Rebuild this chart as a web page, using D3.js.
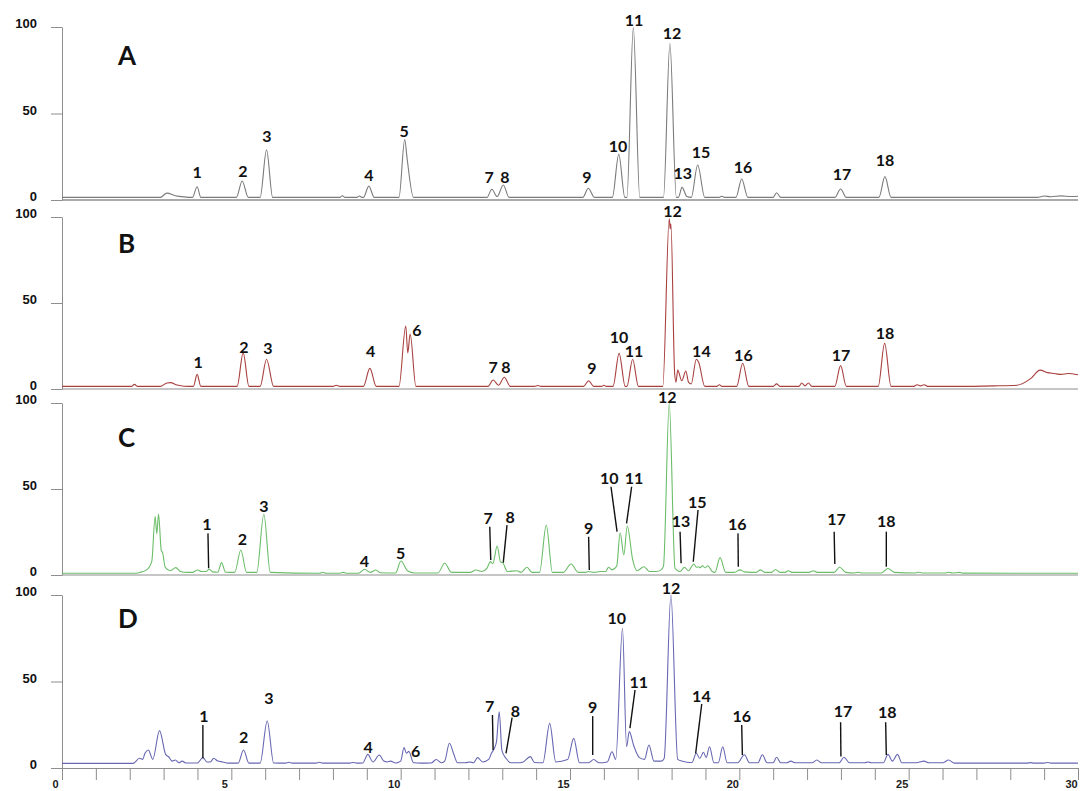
<!DOCTYPE html>
<html>
<head>
<meta charset="utf-8">
<script src="https://cdnjs.cloudflare.com/ajax/libs/d3/7.8.5/d3.min.js"></script>
<style>
body { margin: 0; background: #fff; }
svg text { font-family: Lato, "Liberation Sans", sans-serif; }
</style>
</head>
<body>
<div id="chart"></div>
<script>
// panel names, ticks
var panelNames = ['A', 'B', 'C', 'D'];
var yTicks = [0, 50, 100];
var xTickLabels = [0, 5, 10, 15, 20, 25, 30];
var xMinorTicks = [0,1,2,3,4,5,6,7,8,9,10,11,12,13,14,15,16,17,18,19,20,21,22,23,24,25,26,27,28,29,30];

// traces: [minutes, relative intensity]
var traceA = [[0,1.5],[2.9,1.5],[3.1,4],[3.35,2.5],[3.6,1.8],[3.85,1.5],[3.99,7.7],[4.1,1.5],[5.15,1.5],[5.32,11],[5.5,1.5],
  [5.85,1.5],[6.04,29],[6.22,1.5],[8.2,1.5],[8.28,2.5],[8.36,1.5],[8.7,1.5],[8.78,2.3],[8.86,1.5],[8.9,1.5],[9.06,8],[9.22,1.5],
  [9.95,1.5],[10.12,35],[10.19,24],[10.38,1.5],[12.55,1.5],[12.69,6.2],[12.85,2],[13.03,8.7],[13.2,1.5],[15.38,1.5],[15.54,6.8],
  [15.72,1.5],[16.25,1.5],[16.44,26.4],[16.62,1.5],[16.68,1.5],[16.87,99.5],[17.06,1.5],[17.76,1.5],[17.95,90.5],[18.14,1.5],
  [18.2,1.5],[18.31,7.3],[18.45,2],[18.58,1.5],[18.77,20.2],[18.98,1.5],[19.4,1.5],[19.48,2.2],[19.56,1.5],[19.9,1.5],[20.07,12.1],
  [20.25,1.5],[21.0,1.5],[21.1,4.2],[21.22,1.5],[22.82,1.5],[22.99,6.4],[23.16,1.5],[24.12,1.5],[24.3,13.5],[24.48,1.5],[28.8,1.5],
  [29.0,2.3],[29.2,1.9],[29.5,2.4],[29.8,2.0],[30,2.2]];

var traceB = [[0,1.5],[2.05,1.5],[2.14,2.7],[2.23,1.5],[2.9,1.5],[3.1,3.5],[3.2,3.7],[3.4,2.3],[3.6,1.6],[3.88,1.5],[3.99,8.5],
  [4.1,1.5],[5.17,1.5],[5.35,21],[5.52,1.5],[5.85,1.5],[6.04,17.3],[6.25,1.5],[8.0,1.5],[8.1,2.2],[8.2,1.5],[8.9,1.5],[9.09,12],
  [9.28,1.5],[9.95,1.5],[10.15,36.6],[10.21,21],[10.28,32],[10.45,1.5],[12.58,1.5],[12.73,5.2],[12.89,2.2],[13.06,6.8],[13.24,1.5],
  [13.95,1.5],[14.05,2],[14.15,1.5],[15.4,1.5],[15.55,4.8],[15.7,1.5],[15.93,1.5],[16.0,2.2],[16.07,1.5],[16.27,1.5],[16.45,20.7],
  [16.63,1.5],[16.68,1.5],[16.85,17.3],[17.02,1.5],[17.74,1.5],[17.93,99],[17.96,93],[17.98,96],[18.09,9],[18.13,4],[18.18,11],
  [18.3,4.8],[18.42,10.5],[18.5,4],[18.58,3],[18.73,17.3],[18.8,15.5],[18.98,1.5],[19.33,1.5],[19.41,2.5],[19.49,1.5],[19.92,1.5],
  [20.1,15],[20.28,1.5],[21.0,1.5],[21.1,3],[21.2,1.5],[21.76,1.5],[21.84,3.5],[21.94,1.8],[22.04,3.5],[22.14,1.5],[22.82,1.5],
  [22.99,13.6],[23.16,1.5],[24.1,1.5],[24.29,26.5],[24.48,1.5],[25.15,1.5],[25.25,2.5],[25.35,1.8],[25.46,2.5],[25.56,1.5],
  [26.5,1.5],[27.5,1.8],[28.2,2.2],[28.6,6],[28.88,11],[29.1,9.5],[29.3,9],[29.5,8.5],[29.7,9],[30,8.3]];

var traceC = [[0,1],[2.1,1],[2.3,1.5],[2.5,3],[2.65,7.8],[2.75,34],[2.8,24],[2.85,35.5],[2.93,14.5],[2.97,13],[3.05,4.4],
  [3.2,2.5],[3.36,4.3],[3.5,2],[3.7,1.5],[3.85,1.5],[4.0,2.9],[4.12,2],[4.25,2],[4.35,3.3],[4.45,1.8],[4.6,1.6],[4.71,7.2],
  [4.83,1.6],[5.1,1.5],[5.28,14.5],[5.45,1.5],[5.75,1.5],[5.96,35.3],[6.15,1.5],[7.6,1],[7.7,1.6],[7.8,1],[8.2,1],[8.3,1.5],
  [8.4,1],[8.75,1],[8.94,3.3],[9.1,1.5],[9.27,2.9],[9.4,1.3],[9.85,1.2],[10.01,8.1],[10.2,2.5],[10.4,1.2],[11.1,1.2],[11.3,6.8],
  [11.5,1.5],[12.05,1.5],[12.22,2.9],[12.4,2],[12.55,4],[12.65,7.8],[12.72,6.5],[12.85,16.9],[12.95,7.5],[13.01,7.2],[13.15,2],
  [13.43,2.5],[13.55,1.5],[13.73,4.5],[13.88,1.5],[14.1,1.5],[14.3,29],[14.48,1.5],[14.8,1.5],[15.03,6.4],[15.25,1.5],[15.45,1.5],
  [15.55,2],[15.7,1.5],[15.9,2],[16.05,2],[16.14,4.5],[16.24,3],[16.38,5.2],[16.48,24.6],[16.59,11.6],[16.69,28.5],[16.85,9],
  [16.98,2.5],[17.18,4.8],[17.35,2],[17.55,2],[17.69,3],[17.76,5],[17.93,99.8],[18.1,4],[18.15,3],[18.25,2],[18.38,4.5],
  [18.5,2.5],[18.66,6.4],[18.73,4.5],[18.79,4.8],[18.85,4.3],[18.91,5.4],[18.99,4.2],[19.07,5.4],[19.2,2],[19.28,1.5],[19.43,10.1],
  [19.6,1.5],[19.85,1.5],[20.02,3],[20.15,1.8],[20.5,1.5],[20.62,3],[20.75,1.5],[20.95,1.5],[21.07,3.2],[21.2,1.5],[21.35,1.5],
  [21.45,2.5],[21.55,1.5],[22.05,1.5],[22.19,2.5],[22.3,1.5],[22.8,1.5],[22.96,4.5],[23.15,1.5],[23.4,1.2],[23.5,1.6],[23.6,1.2],
  [24.2,1.2],[24.39,3.8],[24.58,1.5],[25.2,1.2],[25.3,1.6],[25.4,1.2],[26.1,1.2],[26.18,1.6],[26.3,1.2],[26.5,1.5],[26.6,1.1],[30,1]];

var traceD = [[0,2.7],[2.1,2.7],[2.29,5.6],[2.38,5],[2.45,8.5],[2.55,10.4],[2.68,5],[2.88,21.6],[3.06,7.9],[3.15,6.5],[3.25,4],
  [3.35,4.6],[3.45,3],[3.55,4],[3.65,2.9],[4.0,2.9],[4.16,6],[4.28,3.5],[4.38,3.5],[4.48,5.6],[4.6,4],[4.75,3.5],[4.9,2.8],
  [5.2,2.8],[5.36,10.4],[5.52,2.8],[5.85,2.8],[6.06,27.2],[6.25,2.9],[6.6,2.8],[6.7,3.3],[6.8,2.8],[7.5,2.8],[7.6,3.3],[7.7,2.8],
  [8.5,2.8],[8.6,3.2],[8.7,2.8],[8.88,2.9],[9.03,7.9],[9.18,3.5],[9.37,7.5],[9.5,4],[9.6,3.5],[9.7,4],[9.85,2.9],[10.0,4],
  [10.1,11.8],[10.17,8.5],[10.24,9.6],[10.38,3],[10.6,2.8],[10.9,2.9],[11.05,4.9],[11.2,3],[11.3,4],[11.44,14.3],[11.56,8.5],
  [11.68,3],[11.9,3],[12.05,3.5],[12.15,3],[12.27,6],[12.42,3.5],[12.6,5],[12.68,8.5],[12.78,12],[12.83,15.2],[12.91,32.5],
  [12.99,10],[13.11,5.6],[13.25,3],[13.45,3],[13.6,3.3],[13.83,6.6],[13.95,3.2],[14.2,3],[14.4,25.8],[14.58,3.5],[14.93,4.9],
  [15.11,17.1],[15.28,3],[15.55,3],[15.7,4.9],[15.85,3],[16.1,3.5],[16.24,9.4],[16.35,5],[16.55,80.8],[16.67,12.3],[16.75,21],
  [16.88,13],[17.05,6],[17.2,5],[17.33,13.3],[17.48,4],[17.7,4],[17.78,5.5],[17.98,100],[18.18,5],[18.3,4],[18.45,3.3],
  [18.6,3.2],[18.73,8.5],[18.83,5.5],[18.94,9.1],[19.02,6],[19.12,12.3],[19.25,3],[19.38,3],[19.51,12.3],[19.64,3],[19.95,3],
  [20.15,7.7],[20.3,3],[20.55,3],[20.68,7.7],[20.82,3],[21.0,3],[21.1,6.2],[21.22,3],[21.4,3],[21.52,4],[21.65,3],[22.15,3],
  [22.29,4.6],[22.42,3],[22.95,3],[23.09,6.2],[23.25,3],[23.7,3],[23.8,3.5],[23.9,3],[24.25,3],[24.39,7.9],[24.52,4],[24.67,7.9],
  [24.8,3],[25.2,3],[25.3,3.3],[25.45,4],[25.6,3],[26.0,3],[26.18,4.6],[26.35,2.8],[28.5,2.8],[28.6,3.1],[28.7,2.8],[29.0,2.8],
  [29.1,3.2],[29.2,2.8],[30,2.8]];

// peak numbers: [text, minutes, intensity of text baseline]
var labelsA = [['1',3.99,12.7],['2',5.34,13.3],['3',6.05,33.5],['4',9.06,11],['5',10.1,36.4],['7',12.61,9.8],['8',13.08,9.8],
  ['9',15.5,9.8],['10',16.42,27.7],['11',16.89,100.5],['12',18.01,93],['13',18.33,12.1],['15',18.87,24.3],['16',20.11,15.6],
  ['17',23.03,11.6],['18',24.3,19.7]];
var labelsB = [['1',4.02,12],['2',5.37,20.7],['3',6.08,20.3],['4',9.11,18.4],['6',10.48,31],['7',12.73,9.1],['8',13.11,9.1],
  ['9',15.65,8.5],['10',16.45,26.6],['11',16.89,18.8],['12',18.03,100.2],['14',18.88,18.8],['16',20.12,16.3],['17',23.0,16.3],
  ['18',24.3,28.9]];
var labelsC = [['1',4.28,26],['2',5.33,17.4],['3',5.96,36.8],['4',8.93,4.8],['5',10.0,9.1],['7',12.58,29.5],['8',13.23,30],
  ['9',15.55,23.8],['10',16.16,52.7],['11',16.89,52.7],['12',17.87,100],['13',18.28,27.7],['15',18.76,38.8],['16',19.94,26.2],
  ['17',22.87,29],['18',24.34,27.7]];
var labelsD = [['1',4.19,26.8],['2',5.36,14.3],['3',6.11,36.8],['4',9.04,8.5],['6',10.44,6.6],['7',12.63,32.5],['8',13.39,29.7],
  ['9',15.67,31.6],['10',16.38,83],['11',17.03,46.4],['12',17.98,100.5],['14',18.88,37.9],['16',20.07,26.8],['17',23.06,29.3],
  ['18',24.37,28.7]];

// leader lines: [t1, v1, t2, v2]
var leadersA = [];
var leadersB = [];
var leadersC = [[4.31,24.2,4.33,3.9],[12.63,28,12.66,8.7],[13.14,29,13.03,7.2],[15.55,22.3,15.57,2.9],[16.21,51.3,16.39,25.2],
  [16.82,51.3,16.67,30],[18.25,25.2,18.28,6.8],[18.78,37.8,18.64,7.7],[19.96,24.2,19.97,4.8],[22.8,25.2,22.82,6.4],[24.34,25.2,24.34,4.8]];
var leadersD = [[4.16,24.9,4.16,5.6],[12.71,30.6,12.73,10.4],[13.29,29.1,13.11,8.5],[15.67,30,15.67,7.5],[16.92,45.1,16.77,23],
  [18.89,37,18.71,8.5],[20.07,24.9,20.09,7.5],[22.99,26.4,23.0,6.7],[24.32,26.4,24.34,7.5]];

var traces = [traceA, traceB, traceC, traceD];
var labels = [labelsA, labelsB, labelsC, labelsD];
var leaders = [leadersA, leadersB, leadersC, leadersD];

// layout
var W = 1083, H = 791;
var colors = ['#7b7b7b', '#a8403f', '#6cbd6a', '#6767b3'];
var boxes = [
	{top: 27, bottom: 200, letterY: 65},
	{top: 217, bottom: 389, letterY: 253},
	{top: 403, bottom: 575, letterY: 447},
	{top: 595, bottom: 768, letterY: 628}
];
var axisColor = '#8e8e8e';

var svg = d3.select('#chart').append('svg')
	.attr('width', W)
	.attr('height', H);

var x = d3.scaleLinear().domain([0, 30]).range([62, 1078]);

panelNames.forEach(function(name, i) {
	var box = boxes[i];
	var y = d3.scaleLinear().domain([0, 100]).range([box.bottom, box.top]);
	var g = svg.append('g');

	// y axis
	var ya = g.append('g')
		.attr('transform', 'translate(' + x(0) + ',0)')
		.call(d3.axisLeft(y).tickValues(yTicks).tickSize(11).tickSizeOuter(0).tickPadding(14));
	ya.select('.domain').attr('stroke', axisColor);
	ya.selectAll('.tick line').attr('stroke', axisColor);
	ya.selectAll('.tick text')
		.attr('dy', '0.05em')
		.attr('fill', '#111')
		.style('font-family', '"Liberation Sans", Arial, sans-serif')
		.style('font-weight', 'bold')
		.style('font-size', '13px');

	// baseline / x axis
	if (i < 3) {
		g.append('line')
			.attr('x1', x(0)).attr('x2', x(30))
			.attr('y1', y(0)).attr('y2', y(0))
			.attr('stroke', axisColor)
			.attr('stroke-width', i === 0 ? 1.6 : 1.2);
	} else {
		var xa = g.append('g')
			.attr('transform', 'translate(0,' + y(0) + ')')
			.call(d3.axisBottom(x).tickValues(xMinorTicks).tickSize(12).tickSizeOuter(0).tickPadding(0)
				.tickFormat(function(d) { return xTickLabels.indexOf(d) >= 0 ? d : ''; }));
		xa.select('.domain').attr('stroke', axisColor).attr('stroke-width', 1.2);
		xa.selectAll('.tick line').attr('stroke', axisColor);
		xa.selectAll('.tick text')
			.attr('dx', '-7')
			.attr('fill', '#222')
			.style('font-family', '"Liberation Sans", Arial, sans-serif')
			.style('font-weight', 'bold')
			.style('font-size', '11px');
	}

	// trace
	var line = d3.line()
		.x(function(d) { return x(d[0]); })
		.y(function(d) { return y(d[1]); })
		.curve(d3.curveMonotoneX);
	g.append('path')
		.datum(traces[i])
		.attr('d', line)
		.attr('fill', 'none')
		.attr('stroke', colors[i])
		.attr('stroke-width', 1.1);

	// leader lines
	g.selectAll('line.leader')
		.data(leaders[i])
		.enter()
		.append('line')
		.attr('class', 'leader')
		.attr('x1', function(d) { return x(d[0]); })
		.attr('y1', function(d) { return y(d[1]); })
		.attr('x2', function(d) { return x(d[2]); })
		.attr('y2', function(d) { return y(d[3]); })
		.attr('stroke', '#111')
		.attr('stroke-width', 1.4);

	// peak numbers
	g.selectAll('text.peak')
		.data(labels[i])
		.enter()
		.append('text')
		.attr('class', 'peak')
		.attr('x', function(d) { return x(d[1]); })
		.attr('y', function(d) { return y(d[2]); })
		.attr('text-anchor', 'middle')
		.attr('fill', '#111')
		.style('font-weight', 'bold')
		.style('font-size', '16px')
		.text(function(d) { return d[0]; });

	// panel letter
	g.append('text')
		.attr('x', 118)
		.attr('y', box.letterY)
		.attr('fill', '#111')
		.style('font-weight', 'bold')
		.style('font-size', '26px')
		.text(name);
});
</script>
</body>
</html>
